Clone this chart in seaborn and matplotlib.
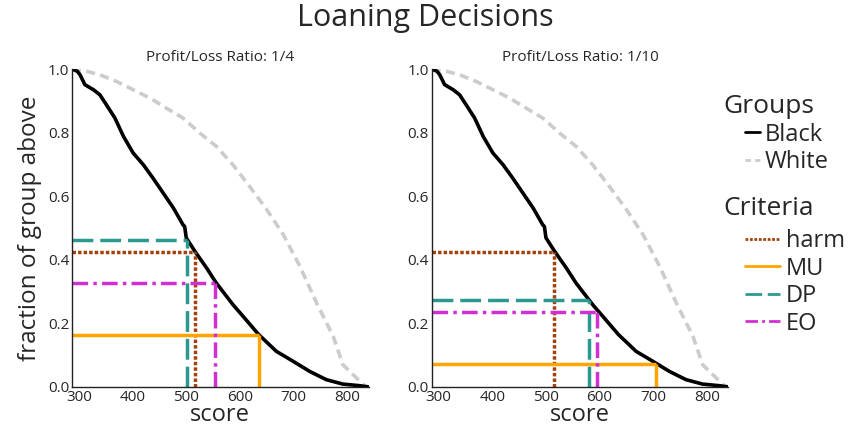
import matplotlib
matplotlib.use("Agg")
import matplotlib.pyplot as plt
import seaborn as sns
import pandas as pd
from matplotlib.lines import Line2D

# ---- data ----
black_score = [287, 297, 302, 311, 327, 339, 351, 367, 383, 401, 420, 438, 457, 476, 494, 497, 500, 516, 538, 556, 587, 606, 635, 668, 699, 730, 761, 792, 823, 840]
black_frac = [1.0, 0.993, 0.982, 0.951, 0.935, 0.919, 0.888, 0.846, 0.788, 0.736, 0.699, 0.657, 0.610, 0.563, 0.510, 0.505, 0.469, 0.427, 0.374, 0.327, 0.259, 0.222, 0.165, 0.112, 0.081, 0.049, 0.023, 0.009, 0.004, 0.0]
white_score = [287, 314, 339, 370, 401, 432, 463, 494, 525, 556, 587, 618, 650, 681, 712, 743, 774, 792, 811, 830, 838]
white_frac = [1.0, 0.993, 0.982, 0.961, 0.935, 0.909, 0.877, 0.846, 0.799, 0.757, 0.699, 0.631, 0.558, 0.479, 0.379, 0.264, 0.159, 0.070, 0.039, 0.007, 0.0]

criteria = ["harm", "MU", "DP", "EO"]
groups = ["Black", "White"]
panel_titles = ["Profit/Loss Ratio: 1/4", "Profit/Loss Ratio: 1/10"]
thr_score_1_4 = [516, 635, 502, 554]
thr_frac_1_4 = [0.426, 0.164, 0.461, 0.327]
thr_score_1_10 = [515, 705, 581, 596]
thr_frac_1_10 = [0.426, 0.073, 0.272, 0.235]

crit_colors = {"harm": "#a4420e", "MU": "#ffa500", "DP": "#2b9990", "EO": "#d22fd2"}
crit_styles = {"harm": (0, (1, 0.6)), "MU": "-", "DP": (0, (6, 2)), "EO": (0, (4.5, 1.5, 1, 1.5))}

sns.set_theme(style="white")
plt.rcParams["font.family"] = ["Open Sans", "DejaVu Sans"]

fig = plt.figure(figsize=(8.5, 4.29), dpi=100)
ax1 = fig.add_axes([0.0847, 0.098, 0.349, 0.741])
ax2 = fig.add_axes([0.5079, 0.098, 0.349, 0.741])

bdf = pd.DataFrame({"score": black_score, "frac": black_frac})
wdf = pd.DataFrame({"score": white_score, "frac": white_frac})

panels = [(ax1, thr_score_1_4, thr_frac_1_4), (ax2, thr_score_1_10, thr_frac_1_10)]
xmin, xmax = 287, 840
for i, (ax, ts, tf) in enumerate(panels):
    sns.lineplot(data=wdf, x="score", y="frac", ax=ax, color="#cccccc", lw=2.6,
                 linestyle=(0, (2.5, 1.5)))
    sns.lineplot(data=bdf, x="score", y="frac", ax=ax, color="black", lw=2.6)
    for c, s, f in zip(criteria, ts, tf):
        ax.hlines(f, xmin, s, color=crit_colors[c], linestyle=crit_styles[c], lw=2.5)
        ax.vlines(s, 0, f, color=crit_colors[c], linestyle=crit_styles[c], lw=2.5)
    ax.set_xlim(xmin, xmax)
    ax.set_ylim(0, 1.0)
    ax.set_xticks([300, 400, 500, 600, 700, 800])
    ax.set_yticks([0.0, 0.2, 0.4, 0.6, 0.8, 1.0])
    ax.set_yticklabels(["0.0", "0.2", "0.4", "0.6", "0.8", "1.0"])
    ax.tick_params(labelsize=11, length=0, pad=2)
    ax.set_title(panel_titles[i], fontsize=11, pad=6)
    ax.set_xlabel("score", fontsize=17, labelpad=-1)
    ax.set_ylabel("")
    for sp in ["top", "right"]:
        ax.spines[sp].set_visible(False)
    for sp in ["left", "bottom"]:
        ax.spines[sp].set_color("#222222")
        ax.spines[sp].set_linewidth(1.0)

ax1.set_ylabel("fraction of group above", fontsize=17.5, labelpad=4)
fig.suptitle("Loaning Decisions", fontsize=22, y=0.993)

# legends: titles as separate texts, entries indented
fig.text(0.851, 0.752, "Groups", fontsize=19, va="center", ha="left")
fig.text(0.851, 0.513, "Criteria", fontsize=19, va="center", ha="left")

g_handles = [Line2D([], [], color="black", lw=2),
             Line2D([], [], color="#cccccc", lw=2, linestyle=(0, (2, 1.5)))]
fig.legend(g_handles, groups, loc="upper left",
           bbox_to_anchor=(0.876, 0.714), frameon=False, fontsize=17,
           handlelength=0.65, handletextpad=0.2, borderpad=0,
           labelspacing=0.15, borderaxespad=0)
c_handles = [Line2D([], [], color=crit_colors[c], lw=2, linestyle=crit_styles[c]) for c in criteria]
fig.legend(c_handles, criteria, loc="upper left",
           bbox_to_anchor=(0.876, 0.466), frameon=False, fontsize=17,
           handlelength=1.5, handletextpad=0.25, borderpad=0,
           labelspacing=0.15, borderaxespad=0)

fig.savefig("out.png", dpi=100)
